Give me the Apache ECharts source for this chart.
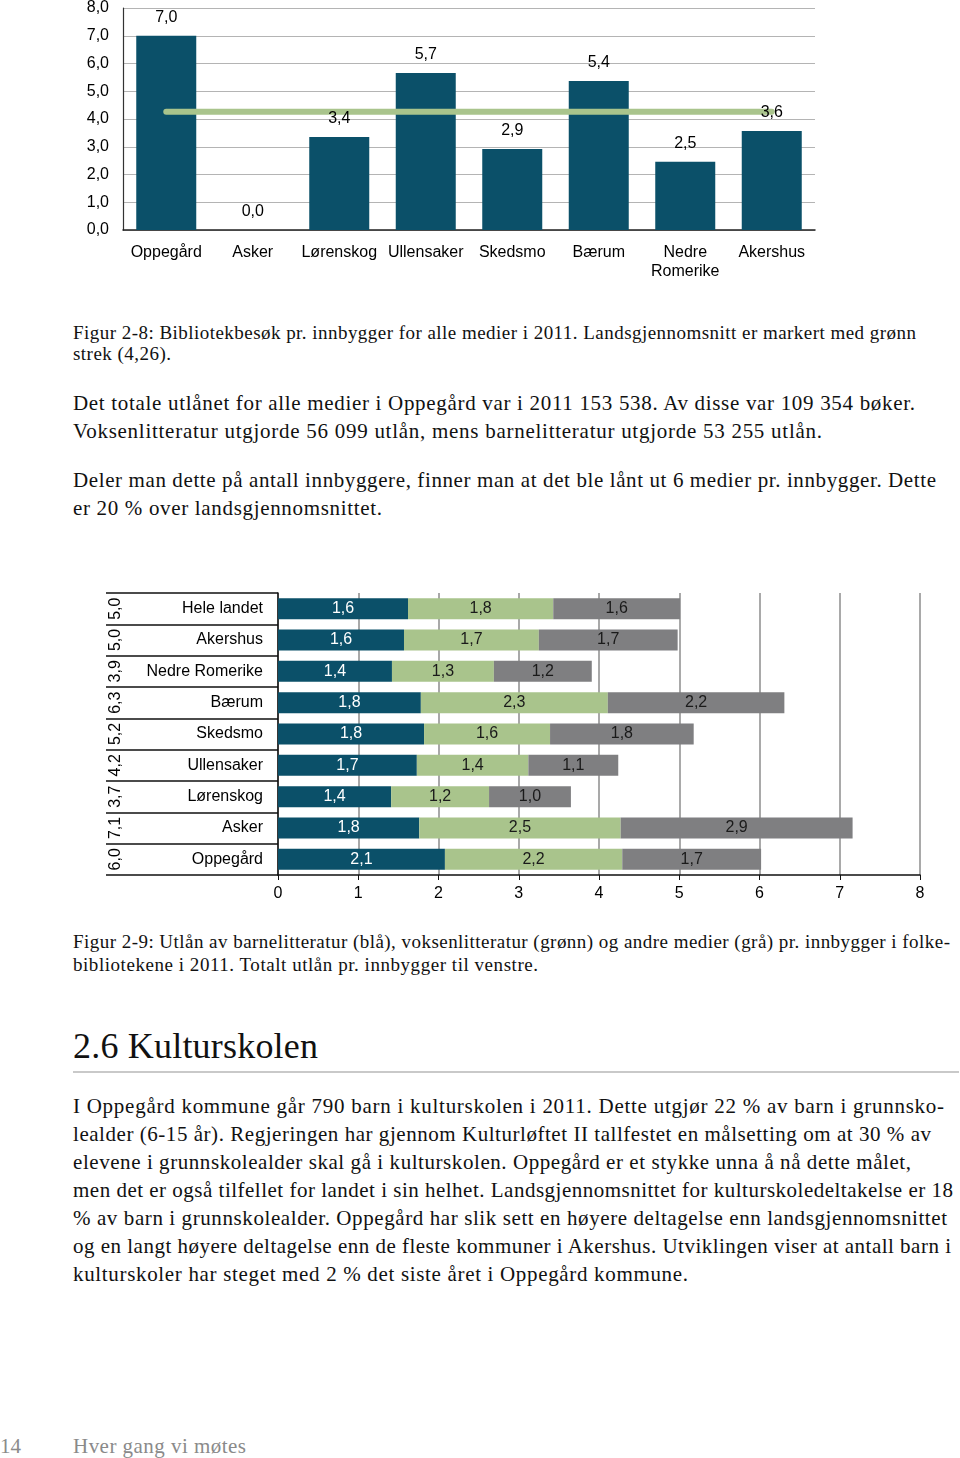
<!DOCTYPE html>
<html>
<head>
<meta charset="utf-8">
<script src="https://cdn.jsdelivr.net/npm/echarts@6/dist/echarts.min.js"></script>
<style>
  html, body { margin: 0; padding: 0; background: #fff; }
  body { width: 960px; height: 1458px; position: relative; overflow: hidden; }
  #c1 { position: absolute; left: 0; top: 0; width: 960px; height: 290px; }
  #c2 { position: absolute; left: 0; top: 585px; width: 960px; height: 330px; }
  .ln { position: absolute; left: 73px; white-space: nowrap; font-family: 'Liberation Serif', 'DejaVu Serif', serif; color: #111; }
  .cap { font-size: 19px; line-height: 22px; }
  .txt { font-size: 21px; line-height: 24px; }
  .h2 { font-size: 36px; line-height: 40px; }
  .ft { font-size: 21px; line-height: 24px; color: #8a8a8a; }
  #rule { position: absolute; left: 73px; top: 1071px; width: 886px; height: 2px; background: #c9c9c9; }
</style>
</head>
<body>
<div id="c1"></div>
<div id="c2"></div>

<div class="ln cap" style="top:322px" data-r="916">Figur 2-8: Bibliotekbesøk pr. innbygger for alle medier i 2011. Landsgjennomsnitt er markert med grønn</div>
<div class="ln cap" style="top:343px" data-r="171">strek (4,26).</div>

<div class="ln txt" style="top:391px" data-r="915">Det totale utlånet for alle medier i Oppegård var i 2011 153 538. Av disse var 109 354 bøker.</div>
<div class="ln txt" style="top:419px" data-r="822">Voksenlitteratur utgjorde 56 099 utlån, mens barnelitteratur utgjorde 53 255 utlån.</div>

<div class="ln txt" style="top:468px" data-r="936">Deler man dette på antall innbyggere, finner man at det ble lånt ut 6 medier pr. innbygger. Dette</div>
<div class="ln txt" style="top:496px" data-r="382">er 20 % over landsgjennomsnittet.</div>

<div class="ln cap" style="top:931px" data-r="950">Figur 2-9: Utlån av barnelitteratur (blå), voksenlitteratur (grønn) og andre medier (grå) pr. innbygger i folke-</div>
<div class="ln cap" style="top:954px" data-r="538">bibliotekene i 2011. Totalt utlån pr. innbygger til venstre.</div>

<div class="ln h2" style="top:1026px" data-r="318">2.6 Kulturskolen</div>
<div id="rule"></div>

<div class="ln txt" style="top:1094px" data-r="944">I Oppegård kommune går 790 barn i kulturskolen i 2011. Dette utgjør 22 % av barn i grunnsko-</div>
<div class="ln txt" style="top:1122px" data-r="931">lealder (6-15 år). Regjeringen har gjennom Kulturløftet II tallfestet en målsetting om at 30 % av</div>
<div class="ln txt" style="top:1150px" data-r="911">elevene i grunnskolealder skal gå i kulturskolen. Oppegård er et stykke unna å nå dette målet,</div>
<div class="ln txt" style="top:1178px" data-r="953">men det er også tilfellet for landet i sin helhet. Landsgjennomsnittet for kulturskoledeltakelse er 18</div>
<div class="ln txt" style="top:1206px" data-r="947">% av barn i grunnskolealder. Oppegård har slik sett en høyere deltagelse enn landsgjennomsnittet</div>
<div class="ln txt" style="top:1234px" data-r="951">og en langt høyere deltagelse enn de fleste kommuner i Akershus. Utviklingen viser at antall barn i</div>
<div class="ln txt" style="top:1262px" data-r="688">kulturskoler har steget med 2 % det siste året i Oppegård kommune.</div>

<div class="ln ft" style="left:0px; top:1434px">14</div>
<div class="ln ft" style="top:1434px" data-r="246">Hver gang vi møtes</div>

<script>
// ---------- Chart 1 data: library visits per inhabitant ----------
const visitCategories = ['Oppegård', 'Asker', 'Lørenskog', 'Ullensaker', 'Skedsmo', 'Bærum', 'Nedre\nRomerike', 'Akershus'];
const visitValues = [7.0, 0.0, 3.35, 5.66, 2.92, 5.37, 2.46, 3.57];
const nationalAverage = [4.26, 4.26, 4.26, 4.26, 4.26, 4.26, 4.26, 4.26];
const visitTicks = ['0,0', '1,0', '2,0', '3,0', '4,0', '5,0', '6,0', '7,0', '8,0'];

// ---------- Chart 2 data: loans per inhabitant ----------
const loanCategories = ['Hele landet', 'Akershus', 'Nedre Romerike', 'Bærum', 'Skedsmo', 'Ullensaker', 'Lørenskog', 'Asker', 'Oppegård'];
const childLit = [1.62, 1.57, 1.42, 1.78, 1.82, 1.73, 1.41, 1.76, 2.08];
const adultLit = [1.81, 1.68, 1.27, 2.33, 1.57, 1.39, 1.22, 2.51, 2.21];
const otherMedia = [1.58, 1.73, 1.22, 2.20, 1.79, 1.12, 1.02, 2.89, 1.73];
const loanTotals = ['5,0', '5,0', '3,9', '6,3', '5,2', '4,2', '3,7', '7,1', '6,0'];

const BLUE = '#0b5069', GREEN = '#a9c48c', GRAY = '#7f7f81';
const SANS = 'Liberation Sans';
const fmt = v => (Math.round(v * 10) / 10).toFixed(1).replace('.', ',');

// ---------- Chart 1 ----------
const c1 = echarts.init(document.getElementById('c1'), null, { renderer: 'canvas' });
c1.setOption({
  animation: false,
  grid: { left: 123, right: 145, top: 8, bottom: 60 },
  xAxis: {
    type: 'category', data: visitCategories,
    axisLine: { lineStyle: { color: '#222', width: 1.5 } },
    axisTick: { show: false },
    axisLabel: { color: '#000', fontFamily: SANS, fontSize: 16, margin: 13, lineHeight: 19, interval: 0 }
  },
  yAxis: {
    type: 'value', min: 0, max: 8, interval: 1,
    axisLine: { show: true, lineStyle: { color: '#333', width: 1.2 } },
    axisTick: { show: false },
    axisLabel: { color: '#000', fontFamily: SANS, fontSize: 16, margin: 14,
      formatter: (v) => visitTicks[Math.round(v)] },
    splitLine: { lineStyle: { color: '#b4b4b4', width: 1.2 } }
  },
  series: [
    { type: 'bar', data: visitValues, barWidth: 60, itemStyle: { color: BLUE }, z: 2 },
    { type: 'line', data: nationalAverage, symbol: 'none', z: 3,
      lineStyle: { color: GREEN, width: 6, cap: 'round' } },
    { type: 'bar', data: visitValues, barWidth: 60, barGap: '-100%', z: 4,
      itemStyle: { color: 'rgba(0,0,0,0)' },
      label: { show: true, position: 'top', distance: 10, color: '#000', fontFamily: SANS, fontSize: 16,
        formatter: p => fmt(p.value) } }
  ]
});

// ---------- Chart 2 ----------
const c2 = echarts.init(document.getElementById('c2'), null, { renderer: 'canvas' });
const segLabel = (col) => ({ show: true, position: 'inside', color: col, fontFamily: SANS, fontSize: 16,
  formatter: p => fmt(p.value) });
c2.setOption({
  animation: false,
  grid: { left: 278, right: 40, top: 8, bottom: 40 },
  xAxis: {
    type: 'value', min: 0, max: 8, interval: 1,
    axisLine: { show: true, lineStyle: { color: '#111', width: 1.5 } },
    axisTick: { show: true, length: 5, lineStyle: { color: '#111' } },
    axisLabel: { color: '#000', fontFamily: SANS, fontSize: 16, margin: 11 },
    splitLine: { show: true, lineStyle: { color: '#8c8c8c', width: 1.5 } }
  },
  yAxis: [
    {
      type: 'category', data: loanCategories, inverse: true,
      axisLine: { show: true, lineStyle: { color: '#111', width: 1.5 } },
      axisTick: { show: true, length: 172, lineStyle: { color: '#111', width: 1.5 } },
      axisLabel: { color: '#000', fontFamily: SANS, fontSize: 16, margin: 15 }
    },
    {
      type: 'category', data: loanTotals, inverse: true, position: 'left', offset: 146,
      axisLine: { show: false }, axisTick: { show: false },
      axisLabel: { color: '#000', fontFamily: SANS, fontSize: 16, rotate: 90, margin: 8 }
    }
  ],
  series: [
    { name: 'barn', type: 'bar', stack: 'a', data: childLit, barWidth: 21, itemStyle: { color: BLUE }, label: segLabel('#fff') },
    { name: 'voksen', type: 'bar', stack: 'a', data: adultLit, barWidth: 21, itemStyle: { color: GREEN }, label: segLabel('#1a1a1a') },
    { name: 'andre', type: 'bar', stack: 'a', data: otherMedia, barWidth: 21, itemStyle: { color: GRAY }, label: segLabel('#1a1a1a') }
  ]
});

// ---------- fit text lines to the reference widths ----------
document.querySelectorAll('.ln').forEach(el => {
  const r = +el.dataset.r; if (!r) return;
  const left = parseFloat(getComputedStyle(el).left);
  const target = r - left;
  const w = el.getBoundingClientRect().width;
  const n = el.textContent.length - 1;
  if (n > 0) el.style.letterSpacing = ((target - w) / n).toFixed(3) + 'px';
});
</script>
</body>
</html>
